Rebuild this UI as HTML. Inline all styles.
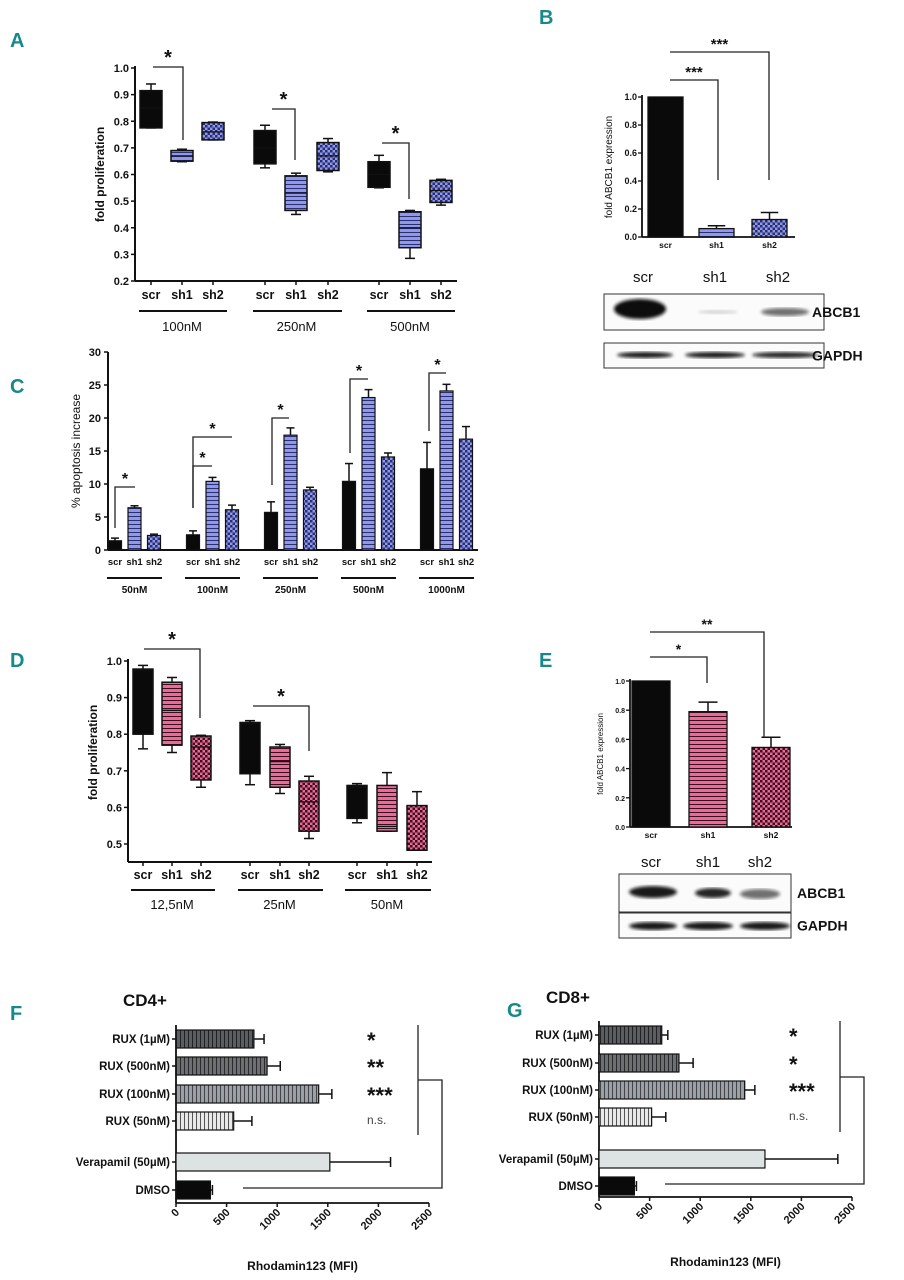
<!DOCTYPE html>
<html><head><meta charset="utf-8"><style>
html,body{margin:0;padding:0;background:#fff;}
svg{display:block;font-family:"Liberation Sans",Arial,sans-serif;}
.pl{fill:#17898a;font-weight:bold;font-size:20px;}
</style></head><body>
<svg id="fig" width="904" height="1280" viewBox="0 0 904 1280" xmlns="http://www.w3.org/2000/svg">
<defs>
<pattern id="pBlueH" width="4" height="4" patternUnits="userSpaceOnUse"><rect width="4" height="4" fill="#8e98ec"/><rect width="4" height="1" fill="#2b2f6b"/></pattern>
<pattern id="pBlueC" width="5" height="5" patternUnits="userSpaceOnUse"><rect width="5" height="5" fill="#8e98ec"/><rect width="2.5" height="2.5" fill="#2b2f6b"/><rect x="2.5" y="2.5" width="2.5" height="2.5" fill="#2b2f6b"/></pattern>
<pattern id="pPinkH" width="4" height="4" patternUnits="userSpaceOnUse"><rect width="4" height="4" fill="#ec6a96"/><rect width="4" height="1" fill="#3a1020"/></pattern>
<pattern id="pPinkC" width="5" height="5" patternUnits="userSpaceOnUse"><rect width="5" height="5" fill="#ec6a96"/><rect width="2.5" height="2.5" fill="#3a1020"/><rect x="2.5" y="2.5" width="2.5" height="2.5" fill="#3a1020"/></pattern>
<pattern id="pG1" width="4" height="4" patternUnits="userSpaceOnUse"><rect width="4" height="4" fill="#5a5e62"/><rect width="1" height="4" fill="#222"/></pattern>
<pattern id="pG2" width="4" height="4" patternUnits="userSpaceOnUse"><rect width="4" height="4" fill="#6c7075"/><rect width="1" height="4" fill="#2a2a2a"/></pattern>
<pattern id="pG3" width="4" height="4" patternUnits="userSpaceOnUse"><rect width="4" height="4" fill="#99a0aa"/><rect width="1" height="4" fill="#444"/></pattern>
<pattern id="pG4" width="4" height="4" patternUnits="userSpaceOnUse"><rect width="4" height="4" fill="#e8e8e8"/><rect width="1" height="4" fill="#555"/></pattern>
<filter id="blur"><feGaussianBlur stdDeviation="1.5"/></filter>
</defs>
<text class="pl" x="10" y="47">A</text>
<text class="pl" x="539" y="24">B</text>
<text class="pl" x="10" y="393">C</text>
<text class="pl" x="10" y="667">D</text>
<text class="pl" x="539" y="667">E</text>
<text class="pl" x="10" y="1020">F</text>
<text class="pl" x="507" y="1017">G</text>
<g id="root"></g>
</svg>
<script>
// Panel A box plots: [whiskerLow, q1, median, q3, whiskerHigh]
const aGroups = ["100nM","250nM","500nM"];
const aCats = ["scr","sh1","sh2"];
const aScr = [[0.775,0.775,0.85,0.915,0.94],[0.625,0.64,0.70,0.765,0.785],[0.55,0.552,0.60,0.648,0.672]];
const aSh1 = [[0.648,0.65,0.67,0.69,0.695],[0.45,0.465,0.53,0.595,0.605],[0.285,0.325,0.40,0.46,0.465]];
const aSh2 = [[0.73,0.73,0.76,0.795,0.797],[0.61,0.615,0.67,0.72,0.735],[0.485,0.495,0.54,0.578,0.582]];
const aTicks = [0.2,0.3,0.4,0.5,0.6,0.7,0.8,0.9,1.0];
// Panel B
const bCats = ["scr","sh1","sh2"];
const bVals = [1.0,0.06,0.125];
const bErr = [0,0.02,0.05];
const bTicks = [0,0.2,0.4,0.6,0.8,1.0];
// Panel C
const cGroups = ["50nM","100nM","250nM","500nM","1000nM"];
const cScr = [1.4,2.3,5.7,10.4,12.3];
const cScrErr = [0.4,0.6,1.6,2.7,4.0];
const cSh1 = [6.4,10.4,17.4,23.1,24.1];
const cSh1Err = [0.3,0.6,1.1,1.2,1.0];
const cSh2 = [2.2,6.1,9.1,14.1,16.8];
const cSh2Err = [0.2,0.7,0.4,0.6,1.9];
const cTicks = [0,5,10,15,20,25,30];
// Panel D
const dGroups = ["12,5nM","25nM","50nM"];
const dScr = [[0.76,0.80,0.975,0.978,0.988],[0.662,0.692,0.83,0.832,0.837],[0.558,0.57,0.655,0.66,0.665]];
const dSh1 = [[0.75,0.77,0.865,0.942,0.955],[0.638,0.655,0.725,0.765,0.772],[0.535,0.535,0.548,0.66,0.695]];
const dSh2 = [[0.655,0.675,0.765,0.795,0.797],[0.515,0.535,0.615,0.672,0.685],[0.483,0.483,0.483,0.605,0.643]];
const dTicks = [0.5,0.6,0.7,0.8,0.9,1.0];
// Panel E
const eVals = [1.0,0.79,0.545];
const eErr = [0,0.065,0.07];
// Panels F/G
const fgCats = ["RUX (1µM)","RUX (500nM)","RUX (100nM)","RUX (50nM)","Verapamil (50µM)","DMSO"];
const fVals = [770,900,1410,570,1520,340];
const fErr = [100,130,130,180,600,20];
const gVals = [620,790,1440,520,1640,350];
const gErr = [60,140,100,140,720,20];
const fgSig = ["*","**","***","n.s."];
const gSig = ["*","*","***","n.s."];
const fgTicks = [0,500,1000,1500,2000,2500];

const NS="http://www.w3.org/2000/svg";
const root=document.getElementById('root');
function el(tag,attrs,parent){const e=document.createElementNS(NS,tag);for(const k in attrs)e.setAttribute(k,attrs[k]);(parent||root).appendChild(e);return e;}
function txt(x,y,s,size,opts,parent){const o=Object.assign({x:x,y:y,'font-size':size,fill:'#111'},opts||{});const t=el('text',o,parent);t.textContent=s;return t;}
function line(x1,y1,x2,y2,w,parent,col){return el('line',{x1:x1,y1:y1,x2:x2,y2:y2,stroke:col||'#111','stroke-width':w||1.5},parent);}
function grp(name){const g=el('g',{});return g;}
function bracket(g,x1,x2,yTop,yDown1,yDown2,label,size){const p=el('path',{d:`M${x1},${yDown1}V${yTop}H${x2}V${yDown2}`,fill:'none',stroke:'#222','stroke-width':1.3},g);const t=txt((x1+x2)/2,yTop-3,label,size||18,{'text-anchor':'middle','font-weight':'bold'},g);}

function boxPanel(name,cfg){
  const g=grp(name);
  const y=v=>cfg.y0-(v-cfg.vmin)/(cfg.vmax-cfg.vmin)*(cfg.y0-cfg.y1);
  line(cfg.ax,cfg.y1-2,cfg.ax,cfg.yBase,2,g);
  line(cfg.ax,cfg.yBase,cfg.axEnd,cfg.yBase,2,g);
  cfg.ticks.forEach(t=>{line(cfg.ax-4,y(t),cfg.ax,y(t),1.5,g);const l=txt(cfg.ax-6,y(t)+4,t.toFixed(1),11,{'text-anchor':'end','font-weight':'bold'},g);});
  const yt=txt(0,0,"fold proliferation",12,{'font-weight':'bold','text-anchor':'middle',transform:`translate(${cfg.ytx},${(cfg.y0+cfg.y1)/2}) rotate(-90)`},g);
  
  const series=[cfg.s0,cfg.s1,cfg.s2];const fills=['#0a0a0a',cfg.f1,cfg.f2];
  cfg.groups.forEach((gn,gi)=>{
    const xs=cfg.centers[gi];
    series.forEach((s,si)=>{
      const d=s[gi];const cx=xs[si];const w=cfg.bw;
      line(cx,y(d[0]),cx,y(d[4]),1.5,g);
      line(cx-5,y(d[4]),cx+5,y(d[4]),1.5,g);line(cx-5,y(d[0]),cx+5,y(d[0]),1.5,g);
      const r=el('rect',{x:cx-w/2,y:y(d[3]),width:w,height:y(d[1])-y(d[3]),fill:fills[si],stroke:'#111','stroke-width':1.5},g);
      
      line(cx-w/2,y(d[2]),cx+w/2,y(d[2]),1.2,g);
      line(cx,cfg.yBase,cx,cfg.yBase+4,1.5,g);
      const l=txt(cx,cfg.catY,cfg.cats[si],12.5,{'text-anchor':'middle','font-weight':'bold'},g);
    });
    line(xs[0]-12,cfg.gLineY,xs[2]+14,cfg.gLineY,2,g);
    const gl=txt((xs[0]+xs[2])/2,cfg.gTextY,gn,13,{'text-anchor':'middle'},g);
  });
  return {g:g,y:y};
}
const A=boxPanel('panel-a-boxplot',{ax:135,axEnd:457,y0:281,y1:68,vmin:0.2,vmax:1.0,yBase:281,ticks:aTicks,ytx:104,
  groups:aGroups,cats:aCats,s0:aScr,s1:aSh1,s2:aSh2,f1:'url(#pBlueH)',f2:'url(#pBlueC)',
  centers:[[151,182,213],[265,296,328],[379,410,441]],bw:22,catY:299,gLineY:311,gTextY:331});
bracket(A.g,153,183,67,67,140,"*",20);bracket(A.g,272,295,109,109,160,"*",20);bracket(A.g,382,409,143,143,199,"*",20);

const D=boxPanel('panel-d-boxplot',{ax:128,axEnd:432,y0:844,y1:661,vmin:0.5,vmax:1.0,yBase:862,ticks:dTicks,ytx:97,
  groups:dGroups,cats:aCats,s0:dScr,s1:dSh1,s2:dSh2,f1:'url(#pPinkH)',f2:'url(#pPinkC)',
  centers:[[143,172,201],[250,280,309],[357,387,417]],bw:20,catY:879,gLineY:890,gTextY:909});
bracket(D.g,144,200,649,649,718,"*",20);bracket(D.g,253,309,706,706,751,"*",20);

(function(){
  const g=grp('panel-c-barchart');
  const ax=108,y0=550,y1=352,vmax=30;const y=v=>y0-v/vmax*(y0-y1);
  line(ax,y1,ax,y0,2,g);line(ax,y0,478,y0,2,g);
  cTicks.forEach(t=>{line(ax-4,y(t),ax,y(t),1.5,g);const l=txt(ax-7,y(t)+4,String(t),11,{'text-anchor':'end','font-weight':'bold'},g);});
  const yt=txt(0,0,"% apoptosis increase",12,{'text-anchor':'middle',transform:`translate(${80},${451}) rotate(-90)`},g);
  const starts=[115,193,271,349,427];const step=19.5,bw=13;
  const ser=[[cScr,cScrErr,'#0a0a0a'],[cSh1,cSh1Err,'url(#pBlueH)'],[cSh2,cSh2Err,'url(#pBlueC)']];
  cGroups.forEach((gn,gi)=>{
    ser.forEach((s,si)=>{
      const cx=starts[gi]+si*step;const v=s[0][gi],e=s[1][gi];
      line(cx,y(v),cx,y(v+e),1.5,g);line(cx-4,y(v+e),cx+4,y(v+e),1.5,g);
      const r=el('rect',{x:cx-bw/2,y:y(v),width:bw,height:y0-y(v),fill:s[2],stroke:'#111','stroke-width':1.2},g);
      
      const l=txt(cx,565,aCats[si],9.5,{'text-anchor':'middle','font-weight':'bold'},g);
    });
    line(starts[gi]-8,578,starts[gi]+2*step+8,578,2,g);
    const gl=txt(starts[gi]+step,593,gn,10,{'text-anchor':'middle','font-weight':'bold'},g);
  });
  bracket(g,115,135,487,528,487,"*",16);
  bracket(g,193,212,466,508,466,"*",16);
  bracket(g,193,232,437,508,437,"*",16);
  bracket(g,272,289,418,485,418,"*",16);
  bracket(g,350,368,379,453,379,"*",16);
  bracket(g,429,446,373,431,373,"*",16);
})();

function expPanel(name,cfg){
  const g=grp(name);
  const y=v=>cfg.y0-v*(cfg.y0-cfg.y1);
  line(cfg.ax,cfg.y1-2,cfg.ax,cfg.y0,1.8,g);line(cfg.ax,cfg.y0,cfg.axEnd,cfg.y0,1.8,g);
  bTicks.forEach(t=>{line(cfg.ax-4,y(t),cfg.ax,y(t),1.3,g);const l=txt(cfg.ax-5,y(t)+3,t.toFixed(1),cfg.tfs,{'text-anchor':'end','font-weight':'bold'},g);});
  const yt=txt(0,0,"fold ABCB1 expression",cfg.yfs,{'text-anchor':'middle',transform:`translate(${cfg.ytx},${(cfg.y0+cfg.y1)/2}) rotate(-90)`},g);
  cfg.vals.forEach((v,i)=>{
    const x0=cfg.bx[i],w=cfg.bw,cx=x0+w/2,e=cfg.err[i];
    if(e>0){line(cx,y(v),cx,y(v+e),1.5,g);line(cx-w/4,y(v+e),cx+w/4,y(v+e),1.5,g);}
    const r=el('rect',{x:x0,y:y(v),width:w,height:cfg.y0-y(v),fill:cfg.fills[i],stroke:'#111','stroke-width':1.3},g);
    
    const l=txt(cx,cfg.y0+11,bCats[i],8.5,{'text-anchor':'middle','font-weight':'bold'},g);
    const ll=txt(cfg.lane[i],cfg.laneY,bCats[i],15,{'text-anchor':'middle'},g);
  });
  const b1=el('rect',{x:cfg.blot[0],y:cfg.blot[1],width:cfg.blot[2],height:cfg.blot[3],fill:'#fbfbfb',stroke:'#333','stroke-width':1},g);
  
  const b2=el('rect',{x:cfg.blot[0],y:cfg.gap[0],width:cfg.blot[2],height:cfg.gap[1],fill:'#fbfbfb',stroke:'#333','stroke-width':1},g);
  
  cfg.bands.forEach(b=>el('ellipse',{cx:b[0],cy:b[1],rx:b[2],ry:b[3],fill:'#111','fill-opacity':b[4],filter:'url(#blur)'},g));
  const t1=txt(cfg.lblX,cfg.blot[1]+cfg.blot[3]/2+5,"ABCB1",14,{'font-weight':'bold'},g);
  const t2=txt(cfg.lblX,cfg.gap[0]+cfg.gap[1]/2+5,"GAPDH",14,{'font-weight':'bold'},g);
  return g;
}
const gB=expPanel('panel-b',{ax:642,axEnd:795,y0:237,y1:97,vals:bVals,err:bErr,bx:[648,699,752],bw:35,tfs:9,yfs:10,ytx:612,
  fills:['#0a0a0a','url(#pBlueH)','url(#pBlueC)'],lane:[643,715,778],laneY:282,
  blot:[604,294,220,36],gap:[343,25],lblX:812,
  bands:[[640,309,26,10,1],[718,312,20,2,0.15],[785,312,24,4,0.6],[645,355,28,3,0.95],[715,355,30,3,0.95],[785,355,33,3,0.9]]});
bracket(gB,670,718,80,80,180,"***",15);bracket(gB,670,769,52,52,180,"***",15);

const gE=expPanel('panel-e',{ax:630,axEnd:792,y0:827,y1:681,vals:eVals,err:eErr,bx:[632,689,752],bw:38,tfs:7,yfs:8,ytx:603,
  fills:['#0a0a0a','url(#pPinkH)','url(#pPinkC)'],lane:[651,708,760],laneY:867,
  blot:[619,874,172,38],gap:[913,25],lblX:797,
  bands:[[653,892,24,6,0.95],[713,893,18,5,0.9],[760,894,20,5,0.6],[653,926,24,4,0.95],[708,926,25,4,0.95],[765,926,25,4,0.95]]});
bracket(gE,650,707,657,657,683,"*",14);bracket(gE,650,764,632,632,737,"**",14);

function hPanel(name,cfg){
  const g=grp(name);
  const x=v=>cfg.ax+v/2500*(cfg.x2500-cfg.ax);
  line(cfg.ax,cfg.yc[0]-14,cfg.ax,cfg.yBase,1.8,g);line(cfg.ax,cfg.yBase,x(2500),cfg.yBase,1.8,g);
  fgTicks.forEach(t=>{line(x(t),cfg.yBase,x(t),cfg.yBase+4,1.5,g);const l=txt(0,0,String(t),11,{'text-anchor':'end','font-weight':'bold',transform:`translate(${x(t)+4},${cfg.yBase+10}) rotate(-45)`},g);});
  const fills=['url(#pG1)','url(#pG2)','url(#pG3)','url(#pG4)','#dde2e2','#0a0a0a'];
  fgCats.forEach((c,i)=>{
    const cy=cfg.yc[i],v=cfg.vals[i],e=cfg.err[i];
    line(x(v),cy,x(v+e),cy,1.5,g);line(x(v+e),cy-5,x(v+e),cy+5,1.5,g);
    const r=el('rect',{x:cfg.ax,y:cy-9,width:x(v)-cfg.ax,height:18,fill:fills[i],stroke:'#111','stroke-width':1.2},g);
    
    line(cfg.ax-4,cy,cfg.ax,cy,1.5,g);
    const l=txt(cfg.ax-6,cy+4,c,11.5,{'text-anchor':'end','font-weight':'bold'},g);
    if(i<4){const s=cfg.sig[i];const st=txt(cfg.sx,cy+(s==='n.s.'?3:9),s,s==='n.s.'?12:22,{'font-weight':s==='n.s.'?'normal':'bold',fill:s==='n.s.'?'#444':'#111'},g);}
  });
  const p=el('path',{d:`M${cfg.bv},${cfg.bt}V${cfg.bb}M${cfg.bv},${cfg.bh}H${cfg.br}V${cfg.bd}H${cfg.bl}`,fill:'none',stroke:'#222','stroke-width':1.3},g);
  
  const t=txt(cfg.tx,cfg.ty,cfg.title,17,{'font-weight':'bold'},g);
  const xl=txt((cfg.ax+x(2500))/2,cfg.xly,"Rhodamin123 (MFI)",12,{'text-anchor':'middle','font-weight':'bold'},g);
}
hPanel('panel-f',{ax:176,x2500:429,yBase:1203,yc:[1039,1066,1094,1121,1162,1190],vals:fVals,err:fErr,sig:fgSig,sx:367,
  bv:418,bt:1025,bb:1135,bh:1080,br:442,bd:1188,bl:243,title:"CD4+",tx:123,ty:1006,xly:1270});
hPanel('panel-g',{ax:599,x2500:852,yBase:1197,yc:[1035,1063,1090,1117,1159,1186],vals:gVals,err:gErr,sig:gSig,sx:789,
  bv:840,bt:1021,bb:1132,bh:1077,br:864,bd:1184,bl:665,title:"CD8+",tx:546,ty:1003,xly:1266});
</script>
</body></html>
